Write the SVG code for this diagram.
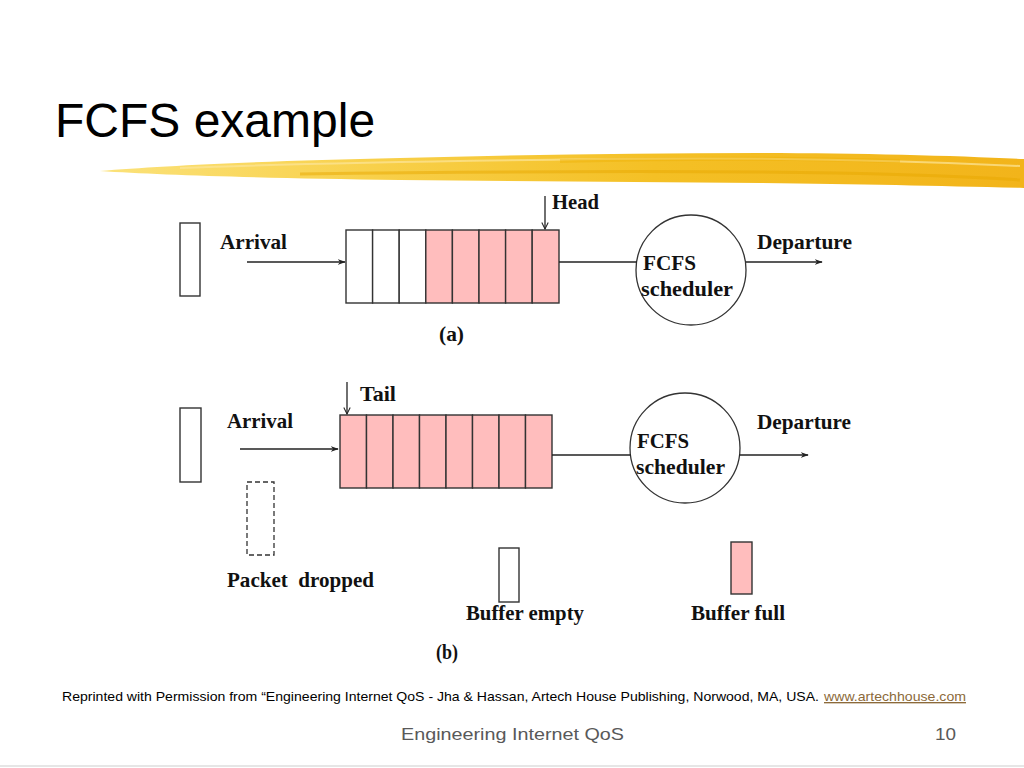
<svg xmlns="http://www.w3.org/2000/svg" width="1024" height="768" viewBox="0 0 1024 768">
<defs>
<style>
.lbl{font-family:"Liberation Serif","Times New Roman",serif;font-weight:bold;font-size:21px;fill:#111;white-space:pre}
.box{fill:#fff;stroke:#333;stroke-width:1.4}
.full{fill:#FFBDBD;stroke:#333;stroke-width:1.4}
.ln{stroke:#222;stroke-width:1.3;fill:none}
.circ{fill:#fff;stroke:#333;stroke-width:1.3}
</style>
<marker id="ah" viewBox="0 0 10 10" refX="9" refY="5" markerWidth="8" markerHeight="8" markerUnits="userSpaceOnUse" orient="auto">
<path d="M0,1.5 L10,5 L0,8.5 L3,5 Z" fill="#222"/>
</marker>
<marker id="va" viewBox="0 0 10 10" refX="9" refY="5" markerWidth="8" markerHeight="8" markerUnits="userSpaceOnUse" orient="auto">
<path d="M1,1 L9,5 L1,9" fill="none" stroke="#222" stroke-width="1.3"/>
</marker>
<linearGradient id="brush" x1="0" y1="0" x2="1" y2="0">
<stop offset="0" stop-color="#FBE27A"/>
<stop offset="0.3" stop-color="#F8D04A"/>
<stop offset="0.6" stop-color="#F4C025"/>
<stop offset="1" stop-color="#F2B41A"/>
</linearGradient>
</defs>
<rect width="1024" height="768" fill="#fff"/>
<g id="title">
<text x="55" y="137" font-family="'Liberation Sans',Arial,sans-serif" font-size="48" fill="#000">FCFS example</text>
</g>
<g id="brushstroke">
<path d="M100,171 C160,166 260,161 400,158 C520,155 640,153 760,153 C860,153 960,156 1024,159 L1024,188 C940,186 860,184 760,183 C640,182 520,181 400,180 C260,178 160,175 100,171 Z" fill="url(#brush)"/>
<path d="M180,168 C300,163 450,161 600,159 C760,157 900,160 1020,166" stroke="#FCE69A" stroke-width="2" fill="none" opacity="0.7"/>
<path d="M300,174 C450,172 600,171 760,172 C880,173 960,176 1020,180" stroke="#E8A800" stroke-width="3" fill="none" opacity="0.5"/>
<path d="M560,161 C680,158 800,158 900,161" stroke="#EDB000" stroke-width="4" fill="none" opacity="0.4"/>
</g>

<g id="diagram-a">
<g id="a-packet"><rect class="box" x="180" y="223" width="20" height="73"/></g>
<g id="a-queue">
<rect class="box" x="346" y="230" width="26.6" height="73"/>
<rect class="box" x="372.6" y="230" width="26.6" height="73"/>
<rect class="box" x="399.2" y="230" width="26.6" height="73"/>
<rect class="full" x="425.8" y="230" width="26.6" height="73"/>
<rect class="full" x="452.4" y="230" width="26.6" height="73"/>
<rect class="full" x="479" y="230" width="26.6" height="73"/>
<rect class="full" x="505.6" y="230" width="26.6" height="73"/>
<rect class="full" x="532.2" y="230" width="26.8" height="73"/>
</g>
<g id="a-scheduler">
<circle class="circ" cx="691" cy="270" r="55"/>
<text class="lbl" x="643" y="270" textLength="53" lengthAdjust="spacingAndGlyphs">FCFS</text>
<text class="lbl" x="641" y="296" textLength="92" lengthAdjust="spacingAndGlyphs">scheduler</text>
</g>
<text class="lbl" x="220" y="249" textLength="67" lengthAdjust="spacingAndGlyphs">Arrival</text>
<text class="lbl" x="552" y="209" textLength="47" lengthAdjust="spacingAndGlyphs">Head</text>
<text class="lbl" x="757" y="249" textLength="95" lengthAdjust="spacingAndGlyphs">Departure</text>
<text class="lbl" x="439" y="341" textLength="25" lengthAdjust="spacingAndGlyphs">(a)</text>
</g>

<g id="diagram-b">
<g id="b-packet"><rect class="box" x="180" y="408" width="21" height="74"/></g>
<g id="b-dropped"><rect x="247" y="482" width="27" height="73" fill="none" stroke="#333" stroke-width="1.3" stroke-dasharray="5,3"/></g>
<g id="b-queue">
<rect class="full" x="340" y="415" width="26.5" height="73"/>
<rect class="full" x="366.5" y="415" width="26.5" height="73"/>
<rect class="full" x="393" y="415" width="26.5" height="73"/>
<rect class="full" x="419.5" y="415" width="26.5" height="73"/>
<rect class="full" x="446" y="415" width="26.5" height="73"/>
<rect class="full" x="472.5" y="415" width="26.5" height="73"/>
<rect class="full" x="499" y="415" width="26.5" height="73"/>
<rect class="full" x="525.5" y="415" width="26.5" height="73"/>
</g>
<g id="b-scheduler">
<circle class="circ" cx="685" cy="448" r="55"/>
<text class="lbl" x="637" y="448" textLength="52" lengthAdjust="spacingAndGlyphs">FCFS</text>
<text class="lbl" x="636" y="474" textLength="89" lengthAdjust="spacingAndGlyphs">scheduler</text>
</g>
<g id="legend-empty"><rect class="box" x="499" y="548" width="20" height="54"/></g>
<g id="legend-full"><rect class="full" x="731" y="542" width="21" height="52"/></g>
<text class="lbl" x="360" y="401" textLength="36" lengthAdjust="spacingAndGlyphs">Tail</text>
<text class="lbl" x="227" y="428" textLength="66" lengthAdjust="spacingAndGlyphs">Arrival</text>
<text class="lbl" x="757" y="429" textLength="94" lengthAdjust="spacingAndGlyphs">Departure</text>
<text class="lbl" x="227" y="587" textLength="147" lengthAdjust="spacingAndGlyphs">Packet  dropped</text>
<text class="lbl" x="466" y="620" textLength="118" lengthAdjust="spacingAndGlyphs">Buffer empty</text>
<text class="lbl" x="691" y="620" textLength="94" lengthAdjust="spacingAndGlyphs">Buffer full</text>
<text class="lbl" x="436" y="659" textLength="22" lengthAdjust="spacingAndGlyphs">(b)</text>
</g>

<g id="connectors">
<line class="ln" x1="247" y1="262" x2="345" y2="262" marker-end="url(#ah)"/>
<line class="ln" x1="559" y1="262" x2="637" y2="262"/>
<line class="ln" x1="746" y1="262" x2="822" y2="262" marker-end="url(#ah)"/>
<line class="ln" x1="545" y1="196" x2="545" y2="229" marker-end="url(#va)"/>
<line class="ln" x1="240" y1="449" x2="338" y2="449" marker-end="url(#ah)"/>
<line class="ln" x1="552" y1="455" x2="631" y2="455"/>
<line class="ln" x1="739" y1="455" x2="808" y2="455" marker-end="url(#ah)"/>
<line class="ln" x1="347" y1="382" x2="347" y2="414" marker-end="url(#va)"/>
</g>

<g id="footer">
<text x="62" y="701" font-family="'Liberation Sans',Arial,sans-serif" font-size="13.5" fill="#000" textLength="757" lengthAdjust="spacingAndGlyphs">Reprinted with Permission from “Engineering Internet QoS - Jha &amp; Hassan, Artech House Publishing, Norwood, MA, USA.</text>
<text x="824" y="701" font-family="'Liberation Sans',Arial,sans-serif" font-size="13.5" fill="#8C6A3A" text-decoration="underline" textLength="142" lengthAdjust="spacingAndGlyphs">www.artechhouse.com</text>
<text x="401" y="740" font-family="'Liberation Sans',Arial,sans-serif" font-size="17" fill="#595959" textLength="223" lengthAdjust="spacingAndGlyphs">Engineering Internet QoS</text>
<text x="935" y="740" font-family="'Liberation Sans',Arial,sans-serif" font-size="17" fill="#595959" textLength="21" lengthAdjust="spacingAndGlyphs">10</text>
<line x1="0" y1="766" x2="1024" y2="766" stroke="#E6E6E6" stroke-width="2"/>
</g>
</svg>
